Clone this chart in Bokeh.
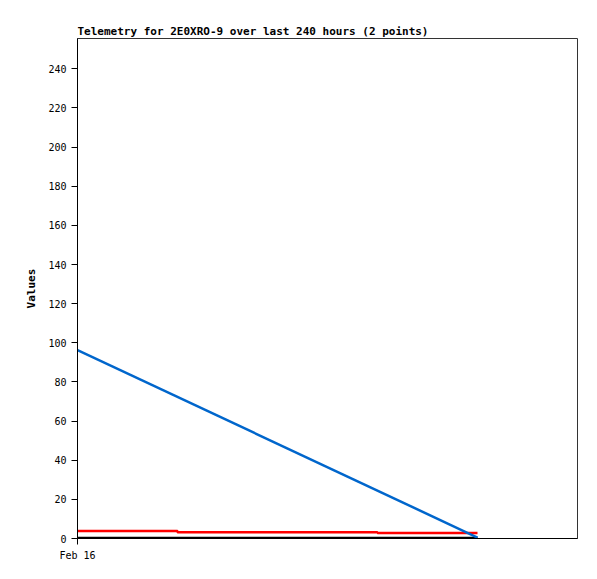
from bokeh.plotting import figure
from bokeh.models import FixedTicker, Range1d
from bokeh.embed import file_html
from bokeh.resources import INLINE

# hours since Feb 16 00:00
x_ticks = [0]
x_tick_labels = ["Feb 16"]

blue_x = [0, 4]
blue_y = [96.3, 0.5]

red_x = [0, 1, 1, 3, 3, 4]
red_y = [3.8, 3.8, 3.2, 3.2, 2.8, 2.8]

black_x = [0, 4]
black_y = [0.3, 0.3]

y_ticks = list(range(0, 241, 20))

p = figure(width=589, height=571, output_backend="svg", toolbar_location=None,
           x_range=Range1d(0, 5), y_range=Range1d(0, 255.5),
           title="Telemetry for 2E0XRO-9 over last 240 hours (2 points)",
           min_border_left=77, min_border_right=12, min_border_bottom=33, min_border_top=38)

p.title.text_font = "DejaVu Sans Mono"
p.title.text_font_size = "11px"
p.title.text_font_style = "bold"
p.title.text_color = "black"
p.title.align = "left"
p.title.offset = 0
p.title.standoff = 2

p.grid.visible = False
p.outline_line_color = "#333333"
p.outline_line_width = 1

p.xaxis.ticker = FixedTicker(ticks=x_ticks)
p.xaxis.major_label_overrides = {t: l for t, l in zip(x_ticks, x_tick_labels)}
p.yaxis.ticker = FixedTicker(ticks=y_ticks)
for ax in (p.xaxis, p.yaxis):
    ax.axis_line_color = "black"
    ax.axis_line_width = 1
    ax.major_tick_line_color = "black"
    ax.major_tick_out = 6
    ax.major_tick_in = 0
    ax.minor_tick_line_color = None
    ax.major_label_text_font = "DejaVu Sans Mono"
    ax.major_label_text_font_size = "10px"
    ax.major_label_text_color = "black"
p.yaxis.axis_label = "Values"
p.yaxis.axis_label_text_font = "DejaVu Sans Mono"
p.yaxis.axis_label_text_font_size = "11px"
p.yaxis.axis_label_text_font_style = "bold"
p.yaxis.axis_label_text_color = "black"
p.yaxis.axis_label_standoff = 7

p.line(black_x, black_y, line_color="black", line_width=2.5)
p.line(red_x, red_y, line_color="#ff0000", line_width=2.5)
p.line(blue_x, blue_y, line_color="#0066cc", line_width=2.5)

open("out.html", "w").write(file_html(p, INLINE))
